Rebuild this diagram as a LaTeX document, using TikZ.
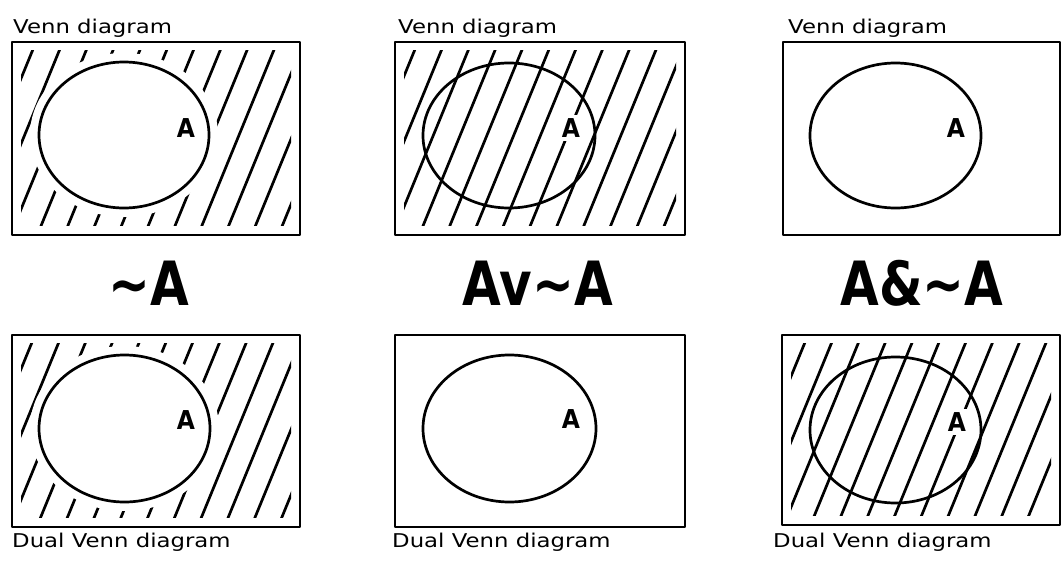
\documentclass[tikz,border=0pt]{standalone}
\usepackage{fontspec}
\setmainfont{DejaVu Sans}
\newfontfamily\smallfont[FakeStretch=1.2]{DejaVu Sans}
\newfontfamily\bigfont[FakeStretch=0.82]{DejaVu Sans Bold}
\newfontfamily\letterfont[FakeStretch=0.9]{DejaVu Sans Bold}
\newcommand\hatchin[5]{%
  \begin{scope}
    \clip (#1+9,#2+8) rectangle (#3-9,#4-10);
    \foreach \k in {-3,...,16} \draw[hatchline] ({#5+\k*26.8},#2) -- ++(-82,200);
  \end{scope}}
\begin{document}
\begin{tikzpicture}[x=1pt,y=-1pt,
  frame/.style={line width=2.8pt, line join=round},
  hatchline/.style={line width=2.7pt, line cap=round},
  setline/.style={line width=2.7pt},
  caption/.style={font=\smallfont\fontsize{19}{22}\selectfont, anchor=base west, inner sep=0pt},
  biglabel/.style={font=\bigfont\fontsize{61}{70}\selectfont, inner sep=0pt},
  setlabel/.style={font=\letterfont\fontsize{26}{30}\selectfont, inner sep=0pt},
  gaplabel/.style={setlabel, fill=white, inner sep=4pt}]
\useasboundingbox (0,0) rectangle (1061,562);

% ---------- top row ----------
% panel 1: ~A
\hatchin{12}{42}{300}{235}{36}
\fill[white] (124,135) ellipse [x radius=94, y radius=82];
\draw[setline] (124,135) ellipse [x radius=85, y radius=73];
\draw[frame] (12,42) rectangle (300,235);
\node[setlabel] (a1) at (186,128) {A};
\node[caption] (t1) at (13,33) {Venn diagram};

% panel 2: Av~A
\hatchin{395}{42}{685}{235}{418}
\draw[setline] (509,135.5) ellipse [x radius=86, y radius=72.5];
\node[gaplabel] (a2) at (571,128) {A};
\draw[frame] (395,42) rectangle (685,235);
\node[caption] (t2) at (398,33) {Venn diagram};

% panel 3: A&~A
\draw[setline] (895.5,135.5) ellipse [x radius=85.5, y radius=72.5];
\node[setlabel] (a3) at (956,128) {A};
\draw[frame] (783,42) rectangle (1060,235);
\node[caption] (t3) at (788,33) {Venn diagram};

% ---------- middle labels ----------
\node[biglabel] (l1) at (149,283) {\textasciitilde A};
\node[biglabel] (l2) at (538,283) {Av\textasciitilde A};
\node[biglabel] (l3) at (922,283) {A\&\textasciitilde A};

% ---------- bottom row ----------
% panel 4
\hatchin{12}{335}{300}{527}{35}
\fill[white] (124.5,428.5) ellipse [x radius=94.5, y radius=82.5];
\draw[setline] (124.5,428.5) ellipse [x radius=85.5, y radius=73.5];
\draw[frame] (12,335) rectangle (300,527);
\node[setlabel] (a4) at (186,420) {A};
\node[caption] (b1) at (12,547) {Dual Venn diagram};

% panel 5
\draw[setline] (509.5,428.5) ellipse [x radius=86.5, y radius=73.5];
\node[setlabel] (a5) at (571,419) {A};
\draw[frame] (395,335) rectangle (685,527);
\node[caption] (b2) at (392,547) {Dual Venn diagram};

% panel 6
\hatchin{782}{335}{1060}{525}{808}
\draw[setline] (895.5,430) ellipse [x radius=85.5, y radius=73];
\node[gaplabel] (a6) at (957,422) {A};
\draw[frame] (782,335) rectangle (1060,525);
\node[caption] (b3) at (773,547) {Dual Venn diagram};
\end{tikzpicture}
\end{document}
